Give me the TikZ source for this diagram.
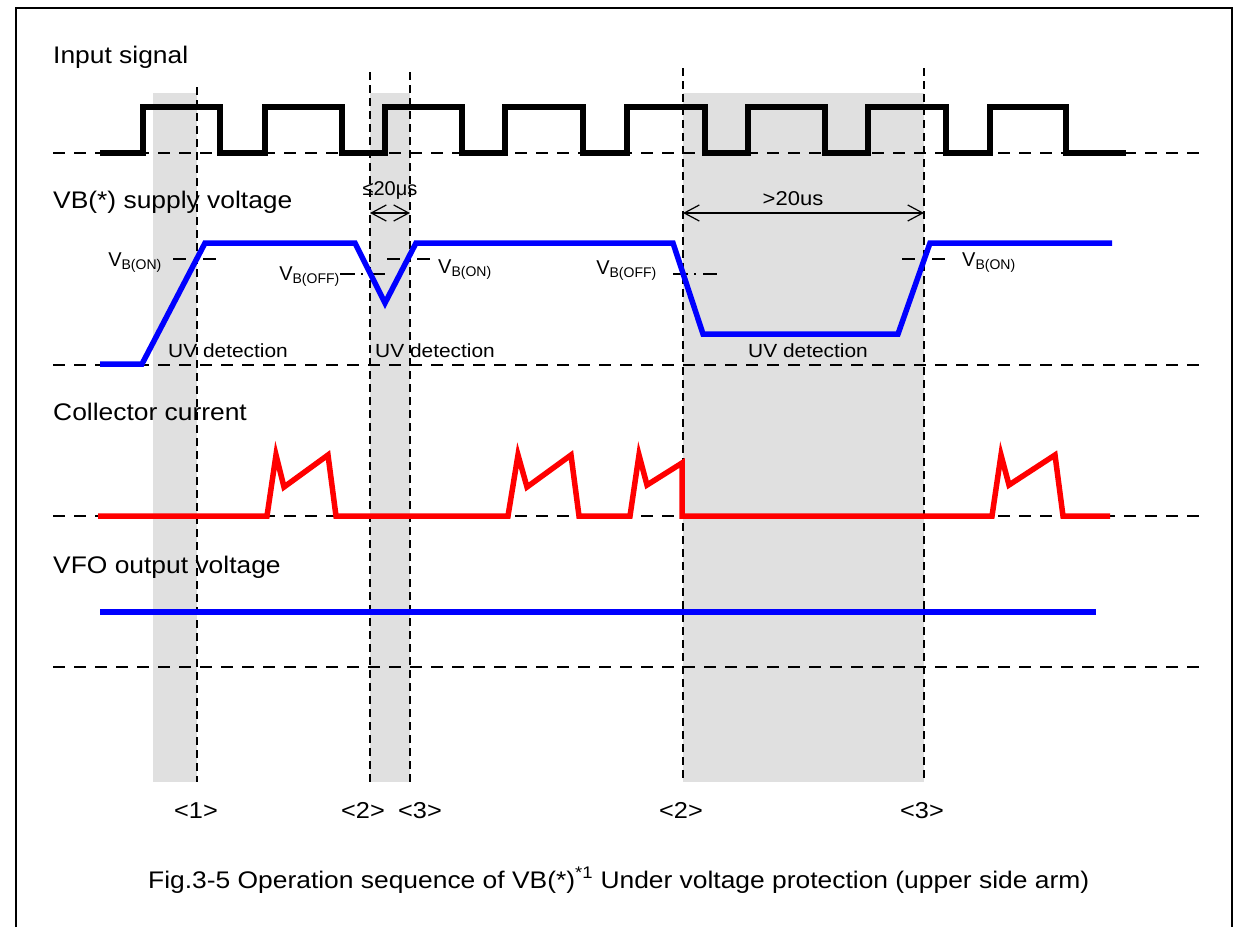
\documentclass[tikz,border=0pt]{standalone}
\usepackage{fontspec}
\setmainfont{Liberation Sans}[FakeStretch=1.1]
\newfontfamily\narrowfont{Liberation Sans}
\usetikzlibrary{arrows.meta,positioning}

\begin{document}
\begin{tikzpicture}[x=1pt,y=-1pt,
    lab/.style={anchor=base west,inner sep=0pt,font=\fontsize{24}{29}\selectfont},
    note/.style={inner sep=0pt,font=\fontsize{19}{23}\selectfont},
    vnote/.style={inner sep=0pt,font=\narrowfont\fontsize{20}{24}\selectfont},
    levelline/.style={dash pattern=on 12pt off 9pt,line width=1.3pt},
    eventline/.style={dash pattern=on 8pt off 5pt,line width=1.4pt},
    shadebox/.style={fill=black!12,draw=none},
    wave/.style={line width=5.5pt},
    vmarkon/.style={line width=1.3pt,dash pattern=on 13pt off 17pt},
    vmarkoff/.style={line width=1.3pt,dash pattern=on 15pt off 6pt on 2pt off 7pt},
    dim/.style={line width=1.2pt,{Straight Barb[length=15pt,width=16pt]}-{Straight Barb[length=15pt,width=16pt]}}]
 \useasboundingbox (0,0) rectangle (1234,927);
 % frame
 \draw[line width=2pt] (16,927) -- (16,8) -- (1232,8) -- (1232,927);
 % UV detection windows
 \foreach \a/\b in {153/197,370/410,683/924}
  \fill[shadebox] (\a,93) rectangle (\b,782);
 % time marks
 \foreach \x/\t in {197/87,370/72,410/72,683/68,924/68}
  \draw[eventline] (\x,\t) -- (\x,782);
 % zero levels
 \foreach \y in {153,365,516,667}
  \draw[levelline] (53,\y) -- (1202,\y);

 % input signal
 \node[lab] (INS) at (53,63) {Input signal};
 \draw[wave] (100,153) foreach \r/\f in {143/220,265/342,385/462,505/583,627/705,748/825,868/946,990/1066}
  { -- (\r,153) -- (\r,107) -- (\f,107) -- (\f,153) } -- (1126,153);

 % VB supply voltage
 \node[lab] (VBS) at (53,208) {VB(*) supply voltage};
 \draw[vmarkon] (173,259) -- (218,259);
 \draw[vmarkoff] (340,274) -- (385,274);
 \draw[vmarkon] (387,259) -- (430,259);
 \draw[vmarkoff] (673,274) -- (717,274);
 \draw[vmarkon] (902,259) -- (945,259);
 \node[vnote,anchor=base east] (ON1) at (162,266) {V\textsubscript{B(ON)}};
 \node[vnote,anchor=base east] (OFF2) at (340,280) {V\textsubscript{B(OFF)}};
 \node[vnote,anchor=base west] (ON2) at (438,273) {V\textsubscript{B(ON)}};
 \node[vnote,anchor=base east] (OFF3) at (657,274) {V\textsubscript{B(OFF)}};
 \node[vnote,anchor=base west] (ON3) at (962,266) {V\textsubscript{B(ON)}};
 \draw[wave,blue] (100,364) -- (142,364) -- (205,243) -- (355,243) -- (385,303) -- (416,243)
  -- (673,243) -- (703,334) -- (898,334) -- (930,243) -- (1112,243);
 \foreach \x/\n in {168/1,375/2,748/3}
  \node[note,anchor=base west] (UV\n) at (\x,357) {UV detection};

 % window widths
 \coordinate (W2L) at (370,213);
 \coordinate (W2R) at (410,213);
 \coordinate (W3L) at (683,213);
 \coordinate (W3R) at (924,213);
 \draw[dim] (W2L) -- (W2R);
 \draw[dim] (W3L) -- (W3R);
 \node[vnote,anchor=base] (SHORT) at (390,195) {≤20μs};
 \node[note,anchor=base,font=\fontsize{20}{24}\selectfont] (LONG) at (793,205) {>20us};

 % collector current
 \node[lab] (ICS) at (53,420) {Collector current};
 \draw[wave,red] (98,516) -- (267,516) -- (276,455) -- (284,487) -- (328,455) -- (336,516)
  -- (508,516) -- (518,455) -- (527,487) -- (571,455) -- (579,516)
  -- (630,516) -- (639,455) -- (647,485) -- (682,463) -- (682,516)
  -- (992,516) -- (1001,455) -- (1009,485) -- (1055,455) -- (1063,516) -- (1110,516);

 % VFO output voltage
 \node[lab] (VFO) at (53,573) {VFO output voltage};
 \draw[wave,blue] (100,612) -- (1096,612);

 % sequence numbers
 \foreach \x/\t [count=\i] in {196/1,363/2,420/3,681/2,922/3}
  \node[note,anchor=base,font=\fontsize{23}{27}\selectfont] (SEQ\i) at (\x,818) {<\t>};

 \node[lab] (CAP) at (148,888)
  {Fig.3-5 Operation sequence of VB(*)\textsuperscript{*1} Under voltage protection (upper side arm)};
\end{tikzpicture}
\end{document}
